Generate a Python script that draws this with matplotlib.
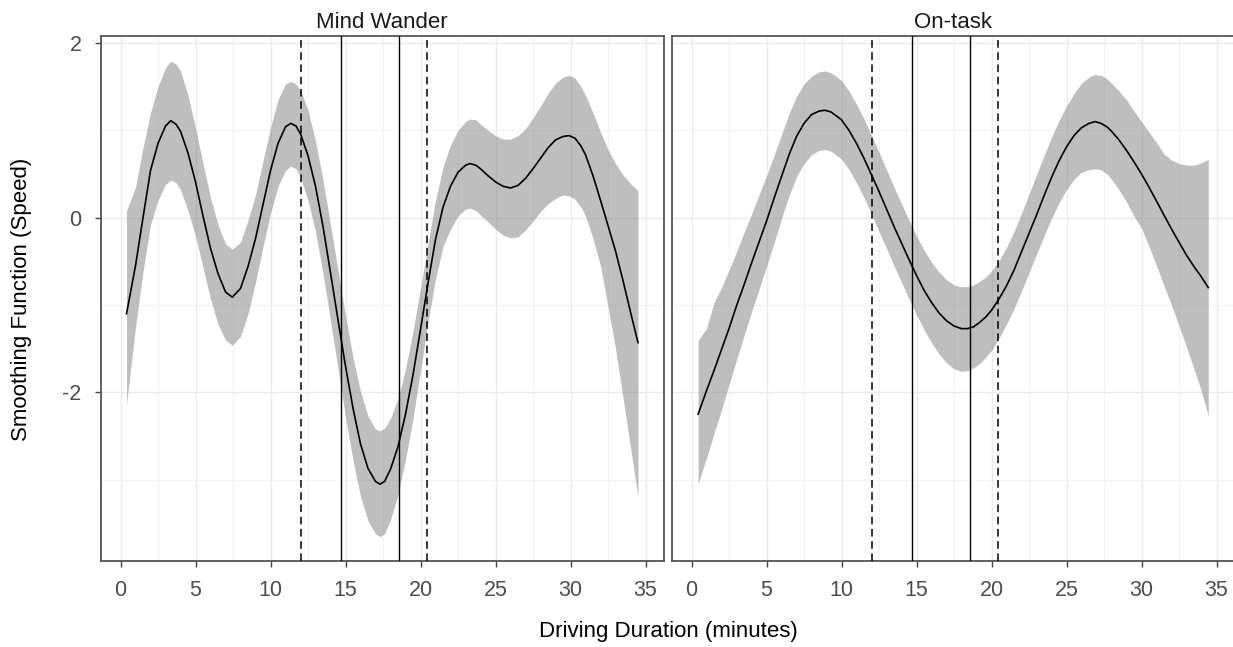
import matplotlib
matplotlib.use("Agg")
import matplotlib.pyplot as plt
import numpy as np

plt.rcParams["font.family"] = ["Liberation Sans", "DejaVu Sans"]
plt.rcParams["axes.unicode_minus"] = False

# Mind Wander panel: smooth, upper and lower CI
mw_x = [0.4, 1.0, 1.5, 2.0, 2.5, 3.0, 3.35, 3.7, 4.0, 4.5, 5.0, 5.5, 6.0, 6.5, 7.0, 7.45,
        8.0, 8.5, 9.0, 9.5, 10.0, 10.5, 11.0, 11.35, 11.7, 12.0, 12.5, 13.0, 13.5, 14.0,
        14.5, 15.0, 15.5, 16.0, 16.5, 17.0, 17.3, 17.6, 18.0, 18.5, 19.0, 19.5, 20.0,
        20.5, 21.0, 21.5, 22.0, 22.5, 23.0, 23.3, 23.7, 24.0, 24.5, 25.0, 25.5, 26.0,
        26.5, 27.0, 27.5, 28.0, 28.5, 29.0, 29.5, 29.9, 30.3, 30.7, 31.0, 31.5, 32.0,
        32.5, 33.0, 33.5, 34.0, 34.5]
mw_fit = [-1.10, -0.55, 0.00, 0.54, 0.85, 1.05, 1.11, 1.07, 0.99, 0.74, 0.41, 0.02, -0.35,
          -0.64, -0.85, -0.91, -0.81, -0.56, -0.24, 0.15, 0.54, 0.85, 1.04, 1.08, 1.05,
          0.96, 0.71, 0.36, -0.10, -0.63, -1.17, -1.70, -2.18, -2.59, -2.87, -3.02, -3.05,
          -3.02, -2.88, -2.62, -2.25, -1.80, -1.28, -0.75, -0.25, 0.12, 0.36, 0.52, 0.60,
          0.62, 0.60, 0.56, 0.48, 0.41, 0.36, 0.34, 0.37, 0.45, 0.56, 0.68, 0.80, 0.89,
          0.93, 0.94, 0.91, 0.82, 0.72, 0.48, 0.20, -0.09, -0.38, -0.72, -1.08, -1.43]
mw_upper = [0.08, 0.35, 0.80, 1.20, 1.50, 1.72, 1.79, 1.76, 1.68, 1.40, 1.03, 0.62, 0.23,
            -0.08, -0.30, -0.36, -0.28, -0.03, 0.26, 0.65, 1.03, 1.35, 1.53, 1.56, 1.53,
            1.46, 1.23, 0.88, 0.43, -0.08, -0.60, -1.12, -1.60, -1.99, -2.27, -2.42, -2.44,
            -2.41, -2.30, -2.07, -1.73, -1.30, -0.81, -0.30, 0.20, 0.58, 0.83, 1.00, 1.10,
            1.13, 1.12, 1.07, 1.00, 0.94, 0.90, 0.90, 0.94, 1.02, 1.14, 1.28, 1.42, 1.54,
            1.61, 1.63, 1.60, 1.50, 1.40, 1.20, 0.98, 0.78, 0.62, 0.49, 0.39, 0.31]
mw_lower = [-2.14, -1.25, -0.62, -0.08, 0.20, 0.38, 0.43, 0.40, 0.32, 0.08, -0.21, -0.57,
            -0.93, -1.22, -1.40, -1.46, -1.36, -1.10, -0.74, -0.33, 0.05, 0.36, 0.54, 0.59,
            0.56, 0.46, 0.20, -0.16, -0.64, -1.18, -1.73, -2.28, -2.78, -3.19, -3.47, -3.62,
            -3.65, -3.62, -3.46, -3.17, -2.77, -2.30, -1.75, -1.20, -0.70, -0.33, -0.13,
            0.02, 0.10, 0.11, 0.08, 0.03, -0.05, -0.13, -0.20, -0.23, -0.22, -0.14, -0.04,
            0.07, 0.16, 0.22, 0.26, 0.25, 0.21, 0.12, 0.02, -0.24, -0.55, -1.02, -1.50,
            -2.06, -2.63, -3.20]

# On-task panel
ot_x = [0.44, 1.0, 1.5, 2.0, 2.5, 3.0, 3.5, 4.0, 4.5, 5.0, 5.5, 6.0, 6.5, 7.0, 7.5, 8.0,
        8.5, 8.9, 9.3, 9.7, 10.0, 10.5, 11.0, 11.5, 12.0, 12.5, 13.0, 13.5, 14.0, 14.5,
        15.0, 15.5, 16.0, 16.5, 17.0, 17.5, 18.0, 18.4, 18.8, 19.2, 19.6, 20.0, 20.5,
        21.0, 21.5, 22.0, 22.5, 23.0, 23.5, 24.0, 24.5, 25.0, 25.5, 26.0, 26.5, 26.9,
        27.3, 27.7, 28.0, 28.5, 29.0, 29.5, 30.0, 30.5, 31.0, 31.5, 32.0, 32.5, 33.0,
        33.5, 34.0, 34.45]
ot_fit = [-2.25, -1.98, -1.75, -1.51, -1.27, -1.01, -0.77, -0.52, -0.28, -0.04, 0.22, 0.47,
          0.72, 0.93, 1.08, 1.18, 1.22, 1.23, 1.21, 1.16, 1.12, 1.00, 0.85, 0.68, 0.49,
          0.30, 0.10, -0.10, -0.29, -0.48, -0.66, -0.83, -0.97, -1.09, -1.18, -1.24, -1.27,
          -1.27, -1.25, -1.20, -1.14, -1.06, -0.93, -0.78, -0.60, -0.39, -0.18, 0.03, 0.25,
          0.46, 0.65, 0.81, 0.94, 1.03, 1.08, 1.10, 1.08, 1.04, 0.99, 0.89, 0.77, 0.64,
          0.50, 0.35, 0.19, 0.03, -0.13, -0.28, -0.43, -0.56, -0.68, -0.80]
ot_upper = [-1.40, -1.27, -0.97, -0.80, -0.60, -0.39, -0.17, 0.04, 0.26, 0.48, 0.71, 0.95,
            1.19, 1.39, 1.53, 1.62, 1.67, 1.68, 1.66, 1.61, 1.57, 1.45, 1.30, 1.13, 0.94,
            0.75, 0.55, 0.35, 0.16, -0.03, -0.21, -0.37, -0.51, -0.62, -0.71, -0.77, -0.79,
            -0.79, -0.77, -0.73, -0.68, -0.61, -0.49, -0.34, -0.16, 0.05, 0.27, 0.49, 0.71,
            0.92, 1.11, 1.28, 1.42, 1.54, 1.61, 1.64, 1.63, 1.59, 1.54, 1.45, 1.35, 1.22,
            1.10, 0.98, 0.86, 0.73, 0.66, 0.62, 0.60, 0.60, 0.63, 0.67]
ot_lower = [-3.05, -2.75, -2.47, -2.20, -1.91, -1.63, -1.35, -1.08, -0.82, -0.56, -0.29,
            -0.01, 0.25, 0.47, 0.62, 0.72, 0.77, 0.78, 0.76, 0.71, 0.67, 0.55, 0.40, 0.23,
            0.04, -0.16, -0.35, -0.55, -0.74, -0.93, -1.11, -1.28, -1.43, -1.56, -1.66,
            -1.73, -1.76, -1.75, -1.72, -1.67, -1.60, -1.52, -1.38, -1.22, -1.04, -0.84,
            -0.63, -0.42, -0.21, -0.01, 0.17, 0.32, 0.44, 0.52, 0.55, 0.56, 0.55, 0.50,
            0.44, 0.32, 0.18, 0.02, -0.12, -0.33, -0.55, -0.78, -1.00, -1.24, -1.48, -1.73,
            -1.99, -2.27]

panels = [("Mind Wander", mw_x, mw_fit, mw_upper, mw_lower),
          ("On-task", ot_x, ot_fit, ot_upper, ot_lower)]
dashed_x = [12.05, 20.45]
solid_x = [14.7, 18.55]
x_ticks = [0, 5, 10, 15, 20, 25, 30, 35]
y_ticks = [-2, 0, 2]

W, H = 1233, 647
fig = plt.figure(figsize=(W / 100, H / 100), dpi=100)
lefts = [101, 672]

for i, (title, x, fit, up, lo) in enumerate(panels):
    ax = fig.add_axes([lefts[i] / W, 1 - 561 / H, 562.5 / W, 525 / H])
    ax.set_xlim(-1.3, 36.2)
    ax.set_ylim(-3.93, 2.08)
    ax.set_xticks(x_ticks)
    ax.set_xticks(np.arange(2.5, 36, 5), minor=True)
    ax.set_yticks(y_ticks)
    ax.set_yticks([-3, -1, 1], minor=True)
    ax.grid(which="major", color="#ebebeb", lw=1.0, zorder=0)
    ax.grid(which="minor", color="#f3f3f3", lw=0.8, zorder=0)
    ax.set_axisbelow(True)

    ax.fill_between(x, lo, up, color="#7f7f7f", alpha=0.5, lw=0, zorder=1)
    ax.plot(x, fit, color="black", lw=1.2, zorder=3, solid_joinstyle="round")
    for v in dashed_x:
        ax.axvline(v, color="black", lw=1.1, ls=(0, (5, 3)), zorder=4)
    for v in solid_x:
        ax.axvline(v, color="black", lw=1.0, zorder=4)

    for s in ax.spines.values():
        s.set_color("#555555")
        s.set_linewidth(1.3)
    ax.tick_params(which="major", length=4, width=1.0, color="#444444",
                   labelsize=15.5, labelcolor="#4d4d4d", pad=10)
    ax.tick_params(which="minor", length=0)
    if i == 1:
        ax.tick_params(axis="y", left=False, labelleft=False)

    cx = (lefts[i] + 281) / W
    fig.text(cx, 1 - 28 / H, title, ha="center", va="baseline", fontsize=16,
             color="#1a1a1a")

fig.text(668 / W, 1 - 632 / H, "Driving Duration (minutes)", ha="center", va="center",
         fontsize=16, color="black")
fig.text(22 / W, 1 - 299 / H, "Smoothing Function (Speed)", ha="center", va="center",
         rotation=90, fontsize=16, color="black")

fig.savefig("out.png", dpi=100)
